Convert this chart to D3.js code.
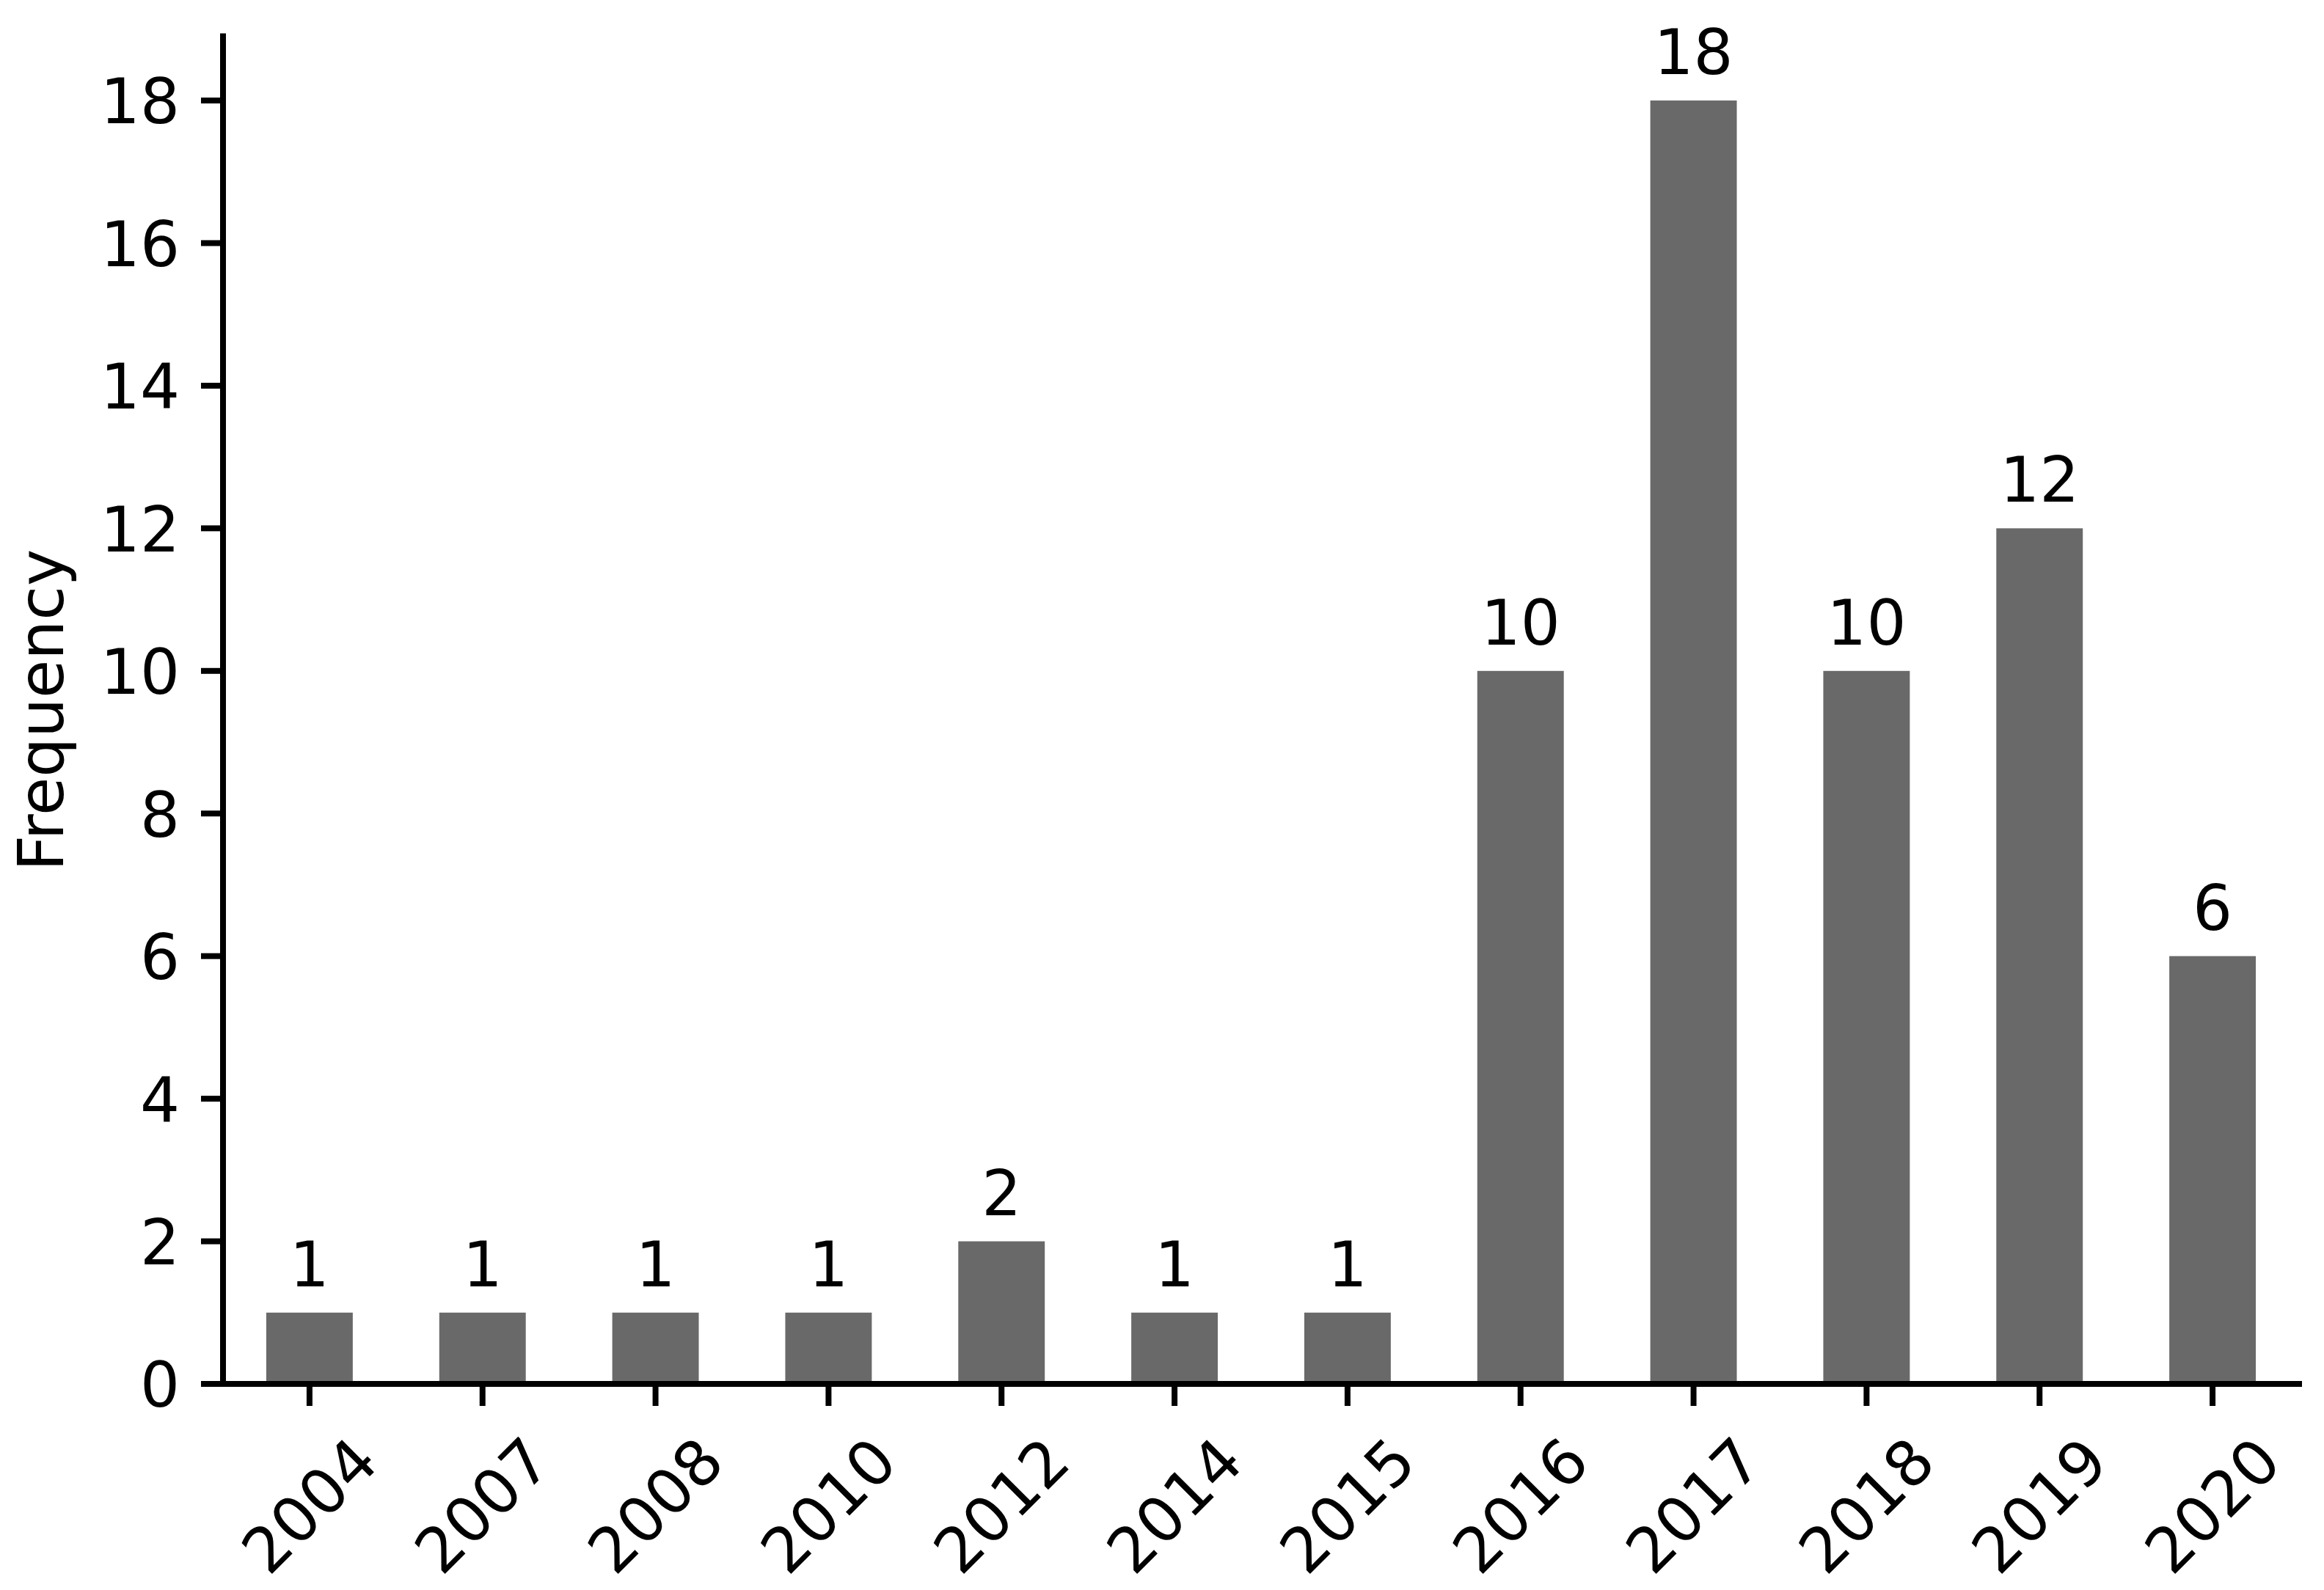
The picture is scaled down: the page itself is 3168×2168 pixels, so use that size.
<!DOCTYPE html>
<html>
<head>
<meta charset="utf-8">
<script src="https://cdn.jsdelivr.net/npm/d3@7"></script>
<style>
  html, body { margin: 0; padding: 0; background: #ffffff; }
  svg { display: block; }
  text { font-family: "DejaVu Sans", sans-serif; fill: #000; }
</style>
</head>
<body>
<script>
// ---- data ----
const years = ["2004", "2007", "2008", "2010", "2012", "2014", "2015", "2016", "2017", "2018", "2019", "2020"];
const counts = [1, 1, 1, 1, 2, 1, 1, 10, 18, 10, 12, 6];
const yTicks = [0, 2, 4, 6, 8, 10, 12, 14, 16, 18];
const yLabel = "Frequency";

// ---- layout ----
const W = 3168, H = 2168;
const plotLeft = 304, plotRight = 3134, plotBottom = 1887;
const unit = 97.22;
const yMax = 18.9;
const plotTop = plotBottom - yMax * unit;
const fontSize = 85;
const lw = 8;
const tickLen = 30;

const svg = d3.select("body").append("svg")
  .attr("width", W).attr("height", H)
  .attr("viewBox", `0 0 ${W} ${H}`);

svg.append("rect").attr("width", W).attr("height", H).attr("fill", "#ffffff");

const x = d3.scaleBand().domain(years).range([plotLeft, plotRight]).paddingInner(0.5).paddingOuter(0.25);
const y = d3.scaleLinear().domain([0, yMax]).range([plotBottom, plotTop]);

const data = years.map((yr, i) => ({ year: yr, value: counts[i] }));

// bars
svg.append("g").selectAll("rect").data(data).join("rect")
  .attr("x", d => x(d.year))
  .attr("width", x.bandwidth())
  .attr("y", d => y(d.value))
  .attr("height", d => y(0) - y(d.value))
  .attr("fill", "#696969");

// value labels
svg.append("g").selectAll("text").data(data).join("text")
  .attr("x", d => x(d.year) + x.bandwidth() / 2)
  .attr("y", d => y(d.value) - 36)
  .attr("text-anchor", "middle")
  .attr("font-size", fontSize)
  .text(d => d.value);

// y axis
const yAxis = d3.axisLeft(y).tickValues(yTicks).tickSize(tickLen).tickSizeOuter(0).tickPadding(29).offset(0);
const gy = svg.append("g").attr("transform", `translate(${plotLeft},0)`).call(yAxis);
gy.select(".domain").attr("stroke", "#000").attr("stroke-width", lw).attr("stroke-linecap", "square").attr("fill", "none");
gy.selectAll(".tick line").attr("stroke", "#000").attr("stroke-width", lw);
gy.selectAll(".tick text")
  .attr("font-size", fontSize)
  .attr("font-family", "DejaVu Sans")
  .attr("fill", "#000")
  .attr("dy", "0.37em");

// x axis
const xAxis = d3.axisBottom(x).tickSize(tickLen).tickSizeOuter(0).offset(0).tickFormat(() => "");
const gx = svg.append("g").attr("transform", `translate(0,${plotBottom})`).call(xAxis);
gx.select(".domain").attr("stroke", "#000").attr("stroke-width", lw).attr("stroke-linecap", "square").attr("fill", "none");
gx.selectAll(".tick line").attr("stroke", "#000").attr("stroke-width", lw);
gx.selectAll(".tick text").remove();

// rotated x tick labels (45°, box centered on tick)
svg.append("g").selectAll("text").data(years).join("text")
  .attr("transform", d => `translate(${x(d) + x.bandwidth() / 2},${plotBottom + 166}) rotate(-45)`)
  .attr("text-anchor", "middle")
  .attr("y", fontSize * 0.35)
  .attr("font-size", fontSize)
  .text(d => d);

// y label
svg.append("text")
  .attr("transform", `translate(86,${(plotTop + plotBottom) / 2}) rotate(-90)`)
  .attr("text-anchor", "middle")
  .attr("font-size", fontSize)
  .text(yLabel);
</script>
</body>
</html>
